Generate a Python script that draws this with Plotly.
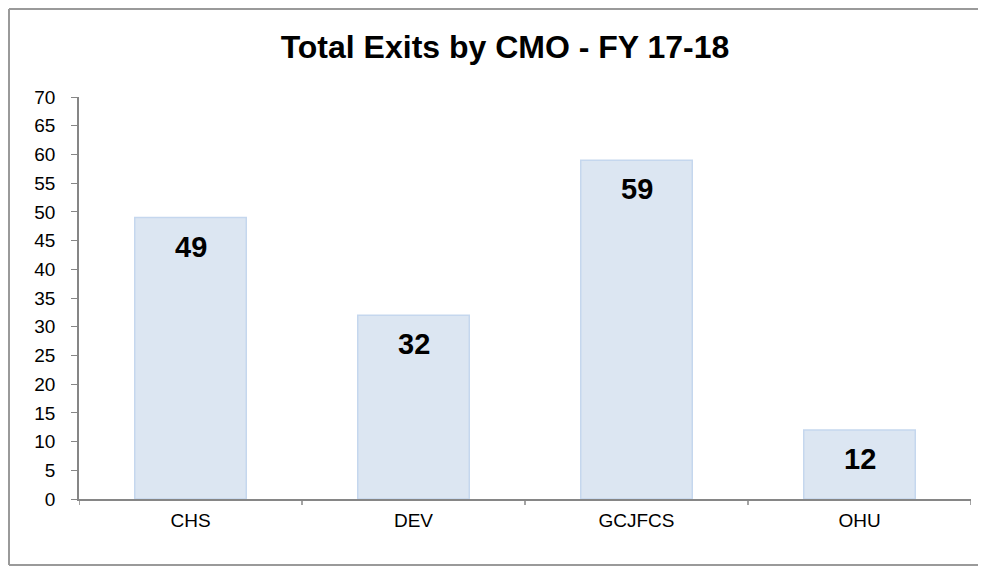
import plotly.graph_objects as go

categories = ["CHS", "DEV", "GCJFCS", "OHU"]
values = [49, 32, 59, 12]
y_ticks = list(range(0, 75, 5))

# page has an 8px body margin; figure coordinates are page coordinates minus 8
W, H = 970, 558
plot_l, plot_r, plot_t, plot_b = 71, 963, 89, 491
pw, ph = plot_r - plot_l, plot_b - plot_t

fig = go.Figure()
fig.add_trace(go.Bar(
    x=categories, y=values, width=0.5,
    marker=dict(color="#dce6f2", line=dict(color="#c5d7ee", width=1.5)),
    hoverinfo="skip", showlegend=False,
))

for c, v in zip(categories, values):
    fig.add_annotation(x=c, y=v, text=f"<b>{v}</b>", showarrow=False,
                       yshift=-29, font=dict(family="Liberation Sans, Arial", size=29, color="#000000"))

# outer frame: left, top and bottom edges
bx0 = (1 - plot_l) / pw
bx1 = (W + 20 - plot_l) / pw
by0 = (plot_b - 557) / ph
by1 = (plot_b - 1) / ph
frame = dict(color="#9a9a9a", width=2)
fig.add_shape(type="line", xref="paper", yref="paper", x0=bx0, x1=bx0, y0=by0, y1=by1, line=frame)
fig.add_shape(type="line", xref="paper", yref="paper", x0=bx0, x1=bx1, y0=by1, y1=by1, line=frame)
fig.add_shape(type="line", xref="paper", yref="paper", x0=bx0, x1=bx1, y0=by0, y1=by0, line=frame)

fig.update_layout(
    width=W, height=H,
    margin=dict(l=plot_l, r=W - plot_r, t=plot_t, b=H - plot_b, pad=0),
    paper_bgcolor="white", plot_bgcolor="white",
    title=dict(text="<b>Total Exits by CMO - FY 17-18</b>", x=497 / W, xanchor="center",
               y=1 - 39 / H, yanchor="middle",
               font=dict(family="Liberation Sans, Arial", size=32, color="#000000")),
    font=dict(family="Liberation Sans, Arial", size=19, color="#000000"),
    bargap=0.5,
)
fig.update_xaxes(showline=True, linecolor="#868686", linewidth=1.5, ticks="", showgrid=False,
                 tickfont=dict(size=19), range=[-0.5, 3.5], ticklabelstandoff=3)
fig.update_yaxes(range=[0, 70], tickvals=y_ticks, showline=True, linecolor="#868686", linewidth=1.5,
                 ticks="outside", ticklen=6, tickcolor="#868686", showgrid=False, zeroline=False,
                 tickfont=dict(size=19), ticklabelstandoff=12)
# category boundary ticks on the x axis
for i in range(len(categories) + 1):
    fig.add_shape(type="line", xref="x", yref="paper", x0=i - 0.5, x1=i - 0.5, y0=0, y1=-6 / ph,
                  line=dict(color="#868686", width=1.5))

fig.write_html("out.html")
